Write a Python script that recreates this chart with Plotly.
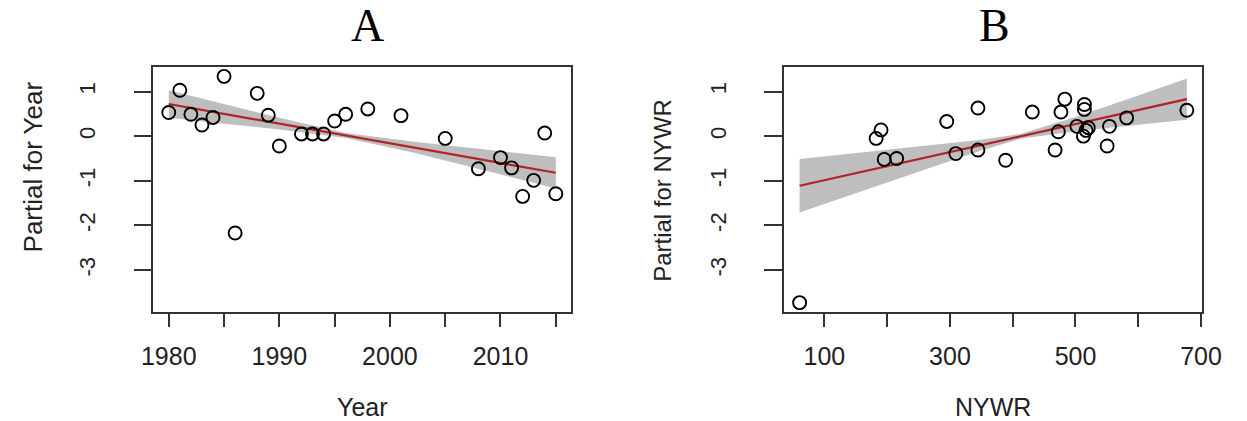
import plotly.graph_objects as go

# ---------------- data ----------------
year = [1980, 1981, 1982, 1983, 1984, 1985, 1986, 1988, 1989, 1990, 1992, 1993, 1994,
        1995, 1996, 1998, 2001, 2005, 2008, 2010, 2011, 2012, 2013, 2014, 2015]
partial_year = [0.53, 1.03, 0.49, 0.25, 0.42, 1.34, -2.17, 0.96, 0.47, -0.22, 0.05, 0.05, 0.05,
                0.34, 0.49, 0.61, 0.46, -0.05, -0.73, -0.48, -0.71, -1.35, -0.99, 0.07, -1.29]

nywr = [60.5, 182.4, 190.2, 195.3, 215.1, 294.9, 309.4, 344.6, 344.6, 388.7, 431.2, 467.5, 476.8,
        483.0, 472.7, 502.2, 512.6, 514.2, 514.2, 516.8, 520.4, 554.1, 550.4, 581.5, 677.4]
partial_nywr = [-3.73, -0.05, 0.14, -0.52, -0.50, 0.33, -0.39, 0.63, -0.31, -0.54, 0.54, -0.31, 0.54,
                0.83, 0.10, 0.22, 0.00, 0.71, 0.60, 0.13, 0.19, 0.22, -0.22, 0.41, 0.58]

# fitted line and confidence band
fit_x_A = [1980, 2015]
fit_y_A = [0.72, -0.82]
band_x_A = [1980, 1985, 1990, 1996, 2002, 2008, 2015]
band_up_A = [1.03, 0.72, 0.41, 0.07, -0.12, -0.28, -0.47]
band_lo_A = [0.41, 0.28, 0.15, -0.04, -0.36, -0.74, -1.17]

fit_x_B = [60.5, 677.4]
fit_y_B = [-1.11, 0.83]
band_x_B = [60.5, 150, 250, 350, 412, 500, 600, 677.4]
band_up_B = [-0.51, -0.38, -0.23, -0.08, 0.05, 0.43, 0.91, 1.29]
band_lo_B = [-1.71, -1.28, -0.80, -0.32, -0.06, 0.11, 0.26, 0.37]

y_ticks = [-3, -2, -1, 0, 1]
x_ticks_A = [1980, 1985, 1990, 1995, 2000, 2005, 2010, 2015]
x_labels_A = ["1980", "", "1990", "", "2000", "", "2010", ""]
x_ticks_B = [100, 200, 300, 400, 500, 600, 700]
x_labels_B = ["100", "", "300", "", "500", "", "700"]

titles = ["A", "B"]
x_titles = ["Year", "NYWR"]
y_titles = ["Partial for Year", "Partial for NYWR"]

# ---------------- styling ----------------
W, H = 1247, 421
BAND = "#BEBEBE"
LINE = "#B22222"
FRAME = "#333333"
SANS = "Liberation Sans, Arial, sans-serif"
SERIF = "Liberation Serif, Times New Roman, serif"

fig = go.Figure()
panels = [
    dict(xa="x", ya="y", bx=band_x_A, bu=band_up_A, bl=band_lo_A, fx=fit_x_A, fy=fit_y_A,
         px=year, py=partial_year),
    dict(xa="x2", ya="y2", bx=band_x_B, bu=band_up_B, bl=band_lo_B, fx=fit_x_B, fy=fit_y_B,
         px=nywr, py=partial_nywr),
]
for p in panels:
    fig.add_trace(go.Scatter(
        x=list(p["bx"]) + list(p["bx"])[::-1],
        y=list(p["bu"]) + list(p["bl"])[::-1],
        fill="toself", fillcolor=BAND, line=dict(width=0), mode="lines",
        xaxis=p["xa"], yaxis=p["ya"], hoverinfo="skip", showlegend=False))
    fig.add_trace(go.Scatter(
        x=p["fx"], y=p["fy"], mode="lines", line=dict(color=LINE, width=2.2),
        xaxis=p["xa"], yaxis=p["ya"], showlegend=False))
    fig.add_trace(go.Scatter(
        x=p["px"], y=p["py"], mode="markers",
        marker=dict(symbol="circle-open", size=13, color="black", line=dict(width=1.9)),
        xaxis=p["xa"], yaxis=p["ya"], showlegend=False))

y_dom = [1 - 312 / H, 1 - 67 / H]
xdomA = [145 / W, 574 / W]
xdomB = [792.5 / W, 1221 / W]

common_x = dict(showline=True, linecolor=FRAME, linewidth=1.5, mirror=True,
                ticks="outside", ticklen=13, tickwidth=1.5, tickcolor=FRAME,
                showgrid=False, zeroline=False,
                tickfont=dict(family=SANS, size=25, color="#222"),
                ticklabelstandoff=8)
common_y = dict(showline=True, linecolor=FRAME, linewidth=1.5, mirror=True,
                ticks="outside", ticklen=18, tickwidth=1.5, tickcolor=FRAME,
                showgrid=False, zeroline=False, tickangle=-90,
                tickvals=y_ticks, ticktext=[str(v) for v in y_ticks],
                tickfont=dict(family=SANS, size=22, color="#222"),
                ticklabelstandoff=30, range=[-3.94, 1.55], domain=y_dom)

fig.update_layout(
    width=W, height=H, autosize=False, margin=dict(l=0, r=0, t=0, b=0),
    paper_bgcolor="white", plot_bgcolor="white", showlegend=False,
    xaxis=dict(common_x, domain=xdomA, range=[1978.6, 2016.4],
               tickvals=x_ticks_A, ticktext=x_labels_A, anchor="y"),
    yaxis=dict(common_y, anchor="x"),
    xaxis2=dict(common_x, domain=xdomB, range=[35.9, 701],
                tickvals=x_ticks_B, ticktext=x_labels_B, anchor="y2"),
    yaxis2=dict(common_y, anchor="x2"),
)

ann = []
for i, (tx, cy) in enumerate([(365, 26), (1008, 26)]):
    ann.append(dict(text=titles[i], x=tx / W, y=1 - cy / H, xref="paper", yref="paper",
                    xanchor="center", yanchor="middle",
                    showarrow=False, font=dict(family=SERIF, size=46, color="black")))
for i, cx in enumerate([359.5, 1006.8]):
    ann.append(dict(text=x_titles[i], x=cx / W, y=1 - 407 / H, xref="paper", yref="paper",
                    xanchor="center", yanchor="middle",
                    showarrow=False, font=dict(family=SANS, size=25, color="#222")))
for i, (cx, cy) in enumerate([(22, 167), (668, 190)]):
    ann.append(dict(text=y_titles[i], x=cx / W, y=1 - cy / H, xref="paper", yref="paper",
                    xanchor="center", yanchor="middle",
                    textangle=-90, showarrow=False,
                    font=dict(family=SANS, size=26 if i == 0 else 24, color="#222")))
fig.update_layout(annotations=ann)

post = ("document.documentElement.style.overflow='hidden';"
        "document.body.style.margin='0';document.body.style.overflow='hidden';")
fig.write_html("out.html", config={"displayModeBar": False, "responsive": False},
               post_script=post)
